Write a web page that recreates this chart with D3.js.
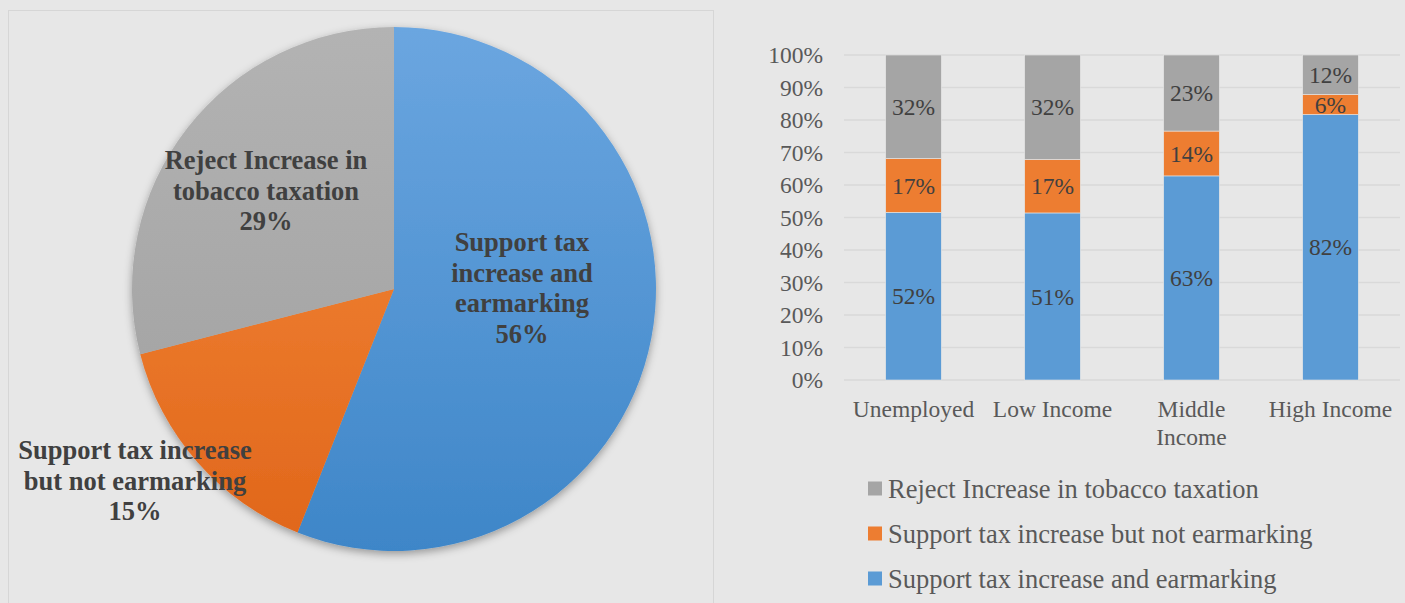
<!DOCTYPE html>
<html>
<head>
<meta charset="utf-8">
<script src="https://cdn.jsdelivr.net/npm/d3@7"></script>
<style>
  body { margin: 0; background: #e7e7e7; }
  svg { display: block; }
</style>
</head>
<body>
<div id="chart"></div>
<script>
// pie data
var pieNames = ["Support tax increase and earmarking", "Support tax increase but not earmarking", "Reject Increase in tobacco taxation"];
var pieValues = [56, 15, 29];
var pieLabelLines = [
    ["Support tax", "increase and", "earmarking", "56%"],
    ["Support tax increase", "but not earmarking", "15%"],
    ["Reject Increase in", "tobacco taxation", "29%"]
];

// stacked bar data
var groups = [["Unemployed"], ["Low Income"], ["Middle", "Income"], ["High Income"]];
var earmarking = [51.6, 51.4, 62.8, 81.7];
var notEarmarking = [16.6, 16.5, 13.8, 6.2];
var reject = [31.8, 32.1, 23.4, 12.1];
var yTicks = [0, 10, 20, 30, 40, 50, 60, 70, 80, 90, 100];

var svgWidth = 1405;
var svgHeight = 603;
var serif = "Liberation Serif";

var svg = d3.select("#chart")
    .append("svg")
    .attr("width", svgWidth)
    .attr("height", svgHeight);

var defs = svg.append("defs");

// left panel frame
svg.append("rect")
    .attr("x", 8.5).attr("y", 10.5)
    .attr("width", 705).attr("height", 600)
    .style("fill", "#e7e7e7")
    .style("stroke", "#d6d6d6");

// ---------- pie ----------
var cx = 394, cy = 289, radius = 262;
var pieColors = [["#6ba6e0", "#3e86c8"], ["#f78d3f", "#e0661a"], ["#b3b3b3", "#9e9e9e"]];

pieColors.forEach(function (c, i) {
    var g = defs.append("linearGradient")
        .attr("id", "pg" + i)
        .attr("gradientUnits", "userSpaceOnUse")
        .attr("x1", 0).attr("y1", -radius)
        .attr("x2", 0).attr("y2", radius);
    g.append("stop").attr("offset", "0%").attr("stop-color", c[0]);
    g.append("stop").attr("offset", "100%").attr("stop-color", c[1]);
});

var shadow = defs.append("filter").attr("id", "shadow")
    .attr("x", "-20%").attr("y", "-20%").attr("width", "140%").attr("height", "140%");
shadow.append("feDropShadow")
    .attr("dx", 0).attr("dy", 3).attr("stdDeviation", 4)
    .attr("flood-color", "#000").attr("flood-opacity", 0.35);

var pie = d3.pie().sort(null).value(function (d) { return d; });
var arc = d3.arc().innerRadius(0).outerRadius(radius);

var pieGroup = svg.append("g")
    .attr("transform", "translate(" + cx + "," + cy + ")");

pieGroup.append("g")
    .attr("filter", "url(#shadow)")
    .selectAll("path")
    .data(pie(pieValues))
    .enter()
    .append("path")
    .attr("d", arc)
    .style("fill", function (d, i) { return "url(#pg" + i + ")"; });

// pie labels
var labelPos = [[128, -38], [-259, 170], [-128, -120]];
pieLabelLines.forEach(function (lines, i) {
    var t = pieGroup.append("text")
        .attr("text-anchor", "middle")
        .style("font-family", serif)
        .style("font-weight", "bold")
        .style("font-size", "26.5px")
        .style("fill", "#404040");
    lines.forEach(function (line, j) {
        t.append("tspan")
            .attr("x", labelPos[i][0])
            .attr("y", labelPos[i][1] + j * 30.5)
            .text(line);
    });
});

// ---------- stacked bars ----------
var plot = { left: 844, right: 1400, top: 55, bottom: 380 };

var x = d3.scaleBand()
    .domain(d3.range(groups.length))
    .range([plot.left, plot.right])
    .paddingInner(0.6)
    .paddingOuter(0.3);

var y = d3.scaleLinear()
    .domain([0, 100])
    .range([plot.bottom, plot.top]);

// gridlines
svg.append("g")
    .selectAll("line")
    .data(yTicks)
    .enter()
    .append("line")
    .attr("x1", plot.left).attr("x2", plot.right)
    .attr("y1", function (d) { return y(d); })
    .attr("y2", function (d) { return y(d); })
    .style("stroke", "#d9d9d9")
    .style("stroke-width", 1.3);

// y axis
var yAxis = svg.append("g")
    .attr("transform", "translate(" + plot.left + ",0)")
    .call(d3.axisLeft(y).tickValues(yTicks).tickSize(0).tickPadding(21)
        .tickFormat(function (d) { return d + "%"; }));
yAxis.select(".domain").remove();
yAxis.selectAll("text")
    .style("font-family", serif)
    .style("font-size", "23.5px")
    .style("fill", "#595959");

// stack
var series = [
    { name: pieNames[0], values: earmarking, color: "#5b9bd5" },
    { name: pieNames[1], values: notEarmarking, color: "#ed7d31" },
    { name: pieNames[2], values: reject, color: "#a5a5a5" }
];

var rows = groups.map(function (g, i) {
    return { i: i, a: earmarking[i], b: notEarmarking[i], c: reject[i] };
});
var stacked = d3.stack().keys(["a", "b", "c"])(rows);

stacked.forEach(function (layer, k) {
    var g = svg.append("g");
    g.selectAll("rect")
        .data(layer)
        .enter()
        .append("rect")
        .attr("x", function (d) { return x(d.data.i); })
        .attr("width", x.bandwidth())
        .attr("y", function (d) { return y(d[1]); })
        .attr("height", function (d) { return y(d[0]) - y(d[1]); })
        .style("fill", series[k].color)
        .style("stroke", "#e7e7e7")
        .style("stroke-width", 0.6);
    g.selectAll("text")
        .data(layer)
        .enter()
        .append("text")
        .attr("x", function (d) { return x(d.data.i) + x.bandwidth() / 2; })
        .attr("y", function (d) { return (y(d[0]) + y(d[1])) / 2; })
        .attr("dy", "0.35em")
        .attr("text-anchor", "middle")
        .style("font-family", serif)
        .style("font-size", "23.5px")
        .style("fill", "#404040")
        .text(function (d) { return Math.round(d[1] - d[0]) + "%"; });
});

// x labels
groups.forEach(function (lines, i) {
    var t = svg.append("text")
        .attr("text-anchor", "middle")
        .style("font-family", serif)
        .style("font-size", "23.5px")
        .style("fill", "#595959");
    lines.forEach(function (line, j) {
        t.append("tspan")
            .attr("x", x(i) + x.bandwidth() / 2)
            .attr("y", 417 + j * 28)
            .text(line);
    });
});

// legend (reverse order)
var legendItems = series.slice().reverse();
var legend = svg.append("g")
    .selectAll("g")
    .data(legendItems)
    .enter()
    .append("g")
    .attr("transform", function (d, i) { return "translate(868," + (488.5 + i * 45) + ")"; });
legend.append("rect")
    .attr("x", 0).attr("y", -7)
    .attr("width", 14).attr("height", 14)
    .style("fill", function (d) { return d.color; });
legend.append("text")
    .attr("x", 20).attr("y", 0)
    .attr("dy", "0.35em")
    .style("font-family", serif)
    .style("font-size", "26.5px")
    .style("fill", "#595959")
    .text(function (d) { return d.name; });
</script>
</body>
</html>
